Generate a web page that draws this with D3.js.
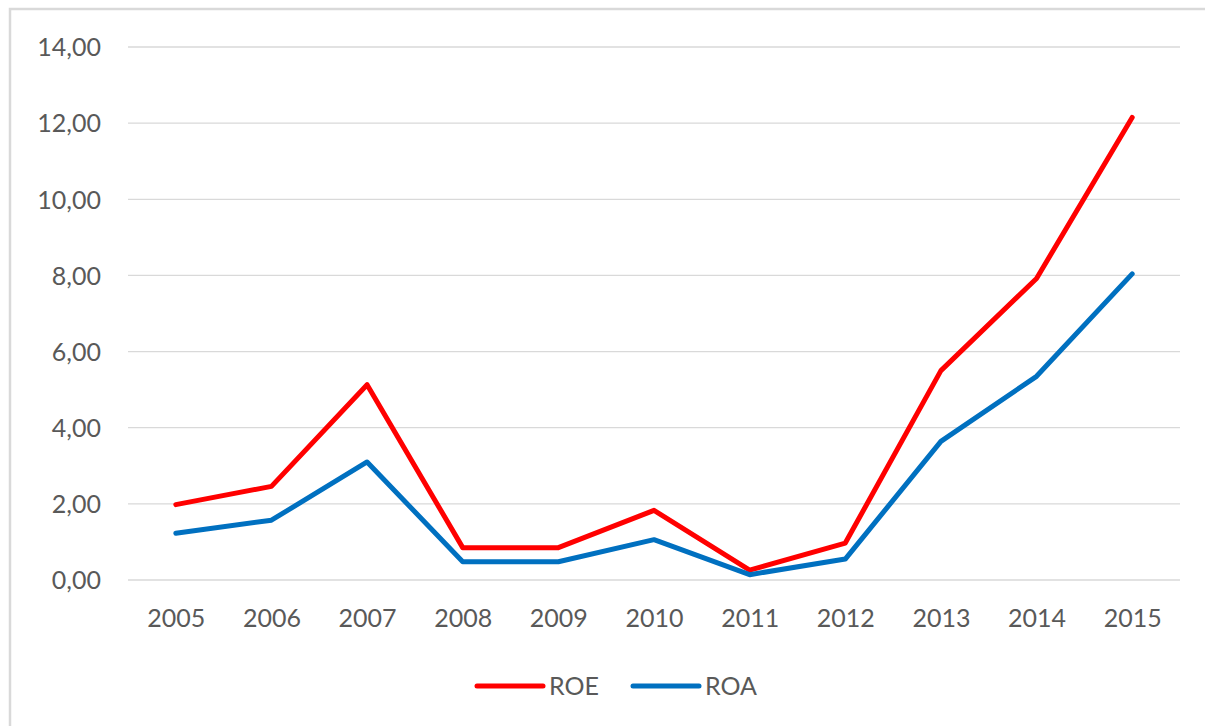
<!DOCTYPE html>
<html>
<head>
<meta charset="utf-8">
<script src="https://cdn.jsdelivr.net/npm/d3@7"></script>
<style>
  body { margin: 0; background: #fff; }
  svg text { font-family: Lato, "Open Sans", sans-serif; fill: #595959; }
</style>
</head>
<body>
<svg id="chart" width="1205" height="726"></svg>
<script>
// chart values
var years = ["2005","2006","2007","2008","2009","2010","2011","2012","2013","2014","2015"];
var roe = [1.98, 2.46, 5.13, 0.85, 0.85, 1.83, 0.26, 0.97, 5.50, 7.92, 12.15];
var roa = [1.23, 1.57, 3.10, 0.48, 0.48, 1.06, 0.14, 0.55, 3.64, 5.35, 8.04];
var yTicks = [0, 2, 4, 6, 8, 10, 12, 14];
var seriesNames = ["ROE", "ROA"];
var seriesColors = ["#ff0000", "#0070c0"];

var svg = d3.select("#chart");

// outer frame (only top and left visible in the crop)
svg.append("rect").attr("x", 10).attr("y", 9).attr("width", 1220).attr("height", 740)
  .attr("fill", "none").attr("stroke", "#d9d9d9").attr("stroke-width", 2.5);

var plotL = 128, plotR = 1180, plotT = 47, plotB = 580;

var x = d3.scalePoint().domain(years).range([plotL, plotR]).padding(0.5);
var y = d3.scaleLinear().domain([0, 14]).range([plotB, plotT]);

// gridlines
svg.append("g").selectAll("line").data(yTicks).enter().append("line")
  .attr("x1", plotL).attr("x2", plotR)
  .attr("y1", function(d) { return y(d); }).attr("y2", function(d) { return y(d); })
  .attr("stroke", "#d9d9d9").attr("stroke-width", 1.3);

// y axis labels
var yAxis = svg.append("g").attr("transform", "translate(" + (plotL - 27) + ",0)")
  .call(d3.axisLeft(y).tickValues(yTicks).tickSize(0).tickPadding(0)
    .tickFormat(function(d) { return d3.format(".2f")(d).replace(".", ","); }));
yAxis.select(".domain").remove();
yAxis.selectAll("text").style("font-size", "25px").attr("dy", "0.35em");

// x axis labels
var xAxis = svg.append("g").attr("transform", "translate(0," + (plotB + 29) + ")")
  .call(d3.axisBottom(x).tickSize(0).tickPadding(0));
xAxis.select(".domain").remove();
xAxis.selectAll("text").style("font-size", "25px").attr("dy", "0.71em");

var line = d3.line()
  .x(function(d, i) { return x(years[i]); })
  .y(function(d) { return y(d); });

[roe, roa].forEach(function(s, k) {
  svg.append("path").datum(s)
    .attr("d", line)
    .attr("fill", "none")
    .attr("stroke", seriesColors[k])
    .attr("stroke-width", 5)
    .attr("stroke-linejoin", "round")
    .attr("stroke-linecap", "round");
});

// legend
var legend = svg.append("g").attr("transform", "translate(0,686)");
var legX = [477, 633];
seriesNames.forEach(function(n, k) {
  legend.append("line").attr("x1", legX[k]).attr("x2", legX[k] + 66)
    .attr("y1", 0).attr("y2", 0)
    .attr("stroke", seriesColors[k]).attr("stroke-width", 5).attr("stroke-linecap", "round");
  legend.append("text").attr("x", legX[k] + 72).attr("y", 0).attr("dy", "0.35em")
    .style("font-size", "25px").text(n);
});
</script>
</body>
</html>
